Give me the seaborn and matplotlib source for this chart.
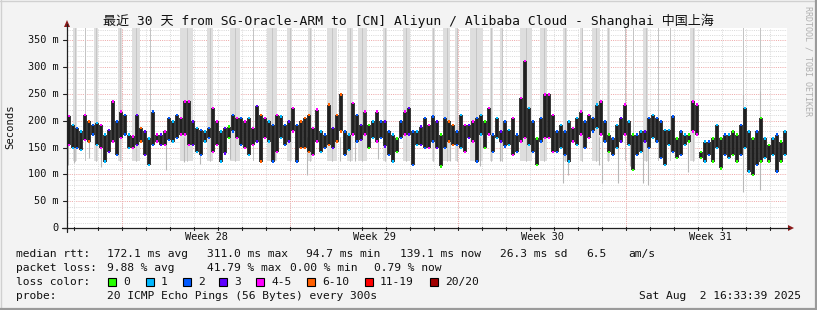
import matplotlib
matplotlib.use("Agg")
import matplotlib.pyplot as plt
import numpy as np
import pandas as pd
import seaborn as sns
from matplotlib.lines import Line2D
from matplotlib.patches import Rectangle, Polygon

# ---------------- data ----------------
title = "最近 30 天 from SG-Oracle-ARM to [CN] Aliyun / Alibaba Cloud - Shanghai 中国上海"
y_ticks = [0, 50, 100, 150, 200, 250, 300, 350]
y_tick_labels = ["0", "50 m", "100 m", "150 m", "200 m", "250 m", "300 m", "350 m"]
week_labels = ["Week 28", "Week 29", "Week 30", "Week 31"]
week_starts = [2.31, 9.31, 16.31, 23.31]      # days since start of window (Sundays 00:00)
first_midnight = 0.31
n_days = 30

# median rtt envelope per 4-hour step (ms), 180 steps over 30 days
med_hi = [
    209, 192, 186, 180, 211, 199, 192, 196, 192, 174, 183, 236, 199, 217, 211, 174, 171, 211, 186, 180, 167, 217, 174, 174, 180, 205, 199, 211, 205, 236,
    236, 199, 186, 183, 180, 186, 224, 199, 180, 186, 189, 211, 205, 205, 199, 205, 186, 227, 211, 205, 199, 192, 211, 208, 192, 199, 224, 192, 199, 205,
    211, 186, 221, 180, 174, 230, 186, 211, 249, 180, 174, 233, 211, 192, 217, 192, 199, 217, 199, 199, 180, 174, 167, 199, 217, 224, 180, 180, 189, 205,
    192, 208, 199, 174, 205, 199, 192, 180, 211, 192, 192, 199, 205, 211, 199, 224, 174, 205, 180, 199, 183, 205, 174, 242, 311, 224, 199, 167, 205, 249,
    249, 211, 180, 192, 180, 199, 186, 205, 217, 199, 211, 205, 230, 236, 199, 174, 167, 192, 205, 230, 199, 174, 174, 180, 180, 205, 211, 205, 199, 183,
    183, 208, 167, 180, 174, 174, 236, 230, 142, 161, 161, 167, 192, 167, 174, 174, 180, 174, 192, 224, 180, 167, 180, 205, 167, 155, 167, 174, 161, 180,
]
med_lo = [
    155, 149, 149, 146, 164, 161, 174, 155, 149, 124, 142, 161, 136, 168, 174, 149, 149, 155, 161, 136, 118, 155, 161, 155, 155, 164, 161, 168, 174, 174,
    155, 155, 142, 136, 161, 168, 142, 155, 124, 139, 168, 180, 168, 155, 149, 136, 155, 161, 124, 168, 161, 124, 142, 168, 155, 161, 180, 124, 149, 149,
    142, 136, 161, 142, 149, 155, 149, 161, 180, 136, 146, 174, 161, 164, 174, 149, 168, 161, 168, 152, 136, 124, 142, 168, 174, 174, 118, 155, 155, 149,
    149, 161, 149, 115, 149, 161, 155, 155, 149, 142, 168, 161, 124, 174, 149, 174, 142, 168, 161, 152, 155, 136, 142, 161, 168, 155, 142, 118, 161, 168,
    168, 142, 142, 149, 136, 124, 161, 155, 174, 149, 168, 180, 186, 174, 161, 142, 136, 149, 161, 174, 155, 108, 136, 142, 161, 149, 168, 161, 130, 118,
    155, 142, 130, 136, 155, 161, 180, 174, 130, 124, 136, 124, 149, 111, 136, 130, 136, 124, 136, 149, 105, 99, 118, 124, 130, 124, 136, 105, 124, 136,
]
# loss colour category per step (0:"0", 1:"1", 2:"2", 3:"3", 4:"4-5", 5:"6-10", 6:"11-19", 7:"20/20")
loss_cat = [
    4, 1, 2, 1, 4, 5, 2, 1, 4, 1, 3, 4, 2, 4, 2, 1, 4, 3, 5, 3, 1, 2, 4, 3, 4, 2, 1, 2, 4, 4,
    4, 3, 1, 2, 1, 2, 4, 4, 1, 3, 0, 2, 4, 2, 4, 1, 4, 3, 5, 4, 1, 2, 4, 1, 2, 3, 4, 2, 5, 5,
    5, 4, 4, 1, 2, 5, 3, 5, 5, 2, 1, 4, 2, 3, 4, 0, 1, 4, 2, 3, 2, 1, 0, 2, 4, 3, 2, 1, 3, 2,
    4, 2, 3, 0, 2, 5, 5, 2, 1, 4, 3, 4, 2, 1, 0, 4, 2, 1, 3, 2, 1, 4, 2, 4, 4, 1, 2, 0, 2, 4,
    4, 4, 2, 1, 2, 1, 4, 1, 4, 2, 4, 2, 1, 4, 2, 0, 2, 1, 3, 4, 1, 0, 2, 1, 3, 2, 1, 2, 2, 1,
    1, 2, 0, 2, 1, 0, 4, 4, 0, 1, 2, 0, 1, 0, 2, 1, 0, 0, 2, 1, 1, 0, 2, 0, 1, 0, 1, 2, 0, 1,
]
loss_labels = ["0", "1", "2", "3", "4-5", "6-10", "11-19", "20/20"]

# periods with heavy loss smoke (day start, day end)
stripe_start = [0.25, 0.75, 1.12, 2.12, 2.71, 3.46, 4.71, 5.83, 6.79, 7.75, 8.33, 9.17, 10.04, 10.83, 11.67, 12.12,
                13.17, 14.00, 15.21, 15.67, 16.17, 16.79, 17.62, 18.04, 18.88, 19.71, 20.67, 21.38, 21.88, 22.50,
                23.25, 23.58, 24.00, 24.62, 25.12, 25.96, 28.17, 28.88]
stripe_end = [0.42, 0.79, 1.29, 2.29, 3.04, 3.50, 5.25, 6.08, 7.21, 7.79, 8.75, 9.38, 10.21, 11.25, 11.92, 12.50,
              13.33, 14.29, 15.33, 15.96, 16.29, 17.33, 17.75, 18.17, 19.38, 20.00, 20.83, 21.50, 22.21, 22.62,
              23.29, 23.62, 24.21, 24.67, 25.17, 26.17, 28.21, 28.92]

# individual smoke outliers (day, low ms, high ms)
spike_day = [0.04, 0.29, 0.92, 1.42, 4.12, 4.88, 5.54, 6.79, 8.67, 10.0, 11.38, 12.0, 12.96, 14.42, 15.96, 17.21,
             18.04, 20.67, 20.88, 22.17, 22.29, 22.96, 23.46, 24.0, 24.21, 25.88, 27.21, 28.17, 28.88]
spike_lo = [118, 121, 130, 114, 108, 124, 120, 128, 126, 99, 125, 125, 128, 118, 125, 115,
            125, 84, 99, 117, 84, 83, 115, 83, 80, 105, 115, 67, 71]
spike_hi = [170, 170, 170, 170, 170, 170, 170, 170, 170, 170, 170, 170, 170, 170, 170, 170,
            170, 170, 170, 170, 170, 170, 170, 170, 170, 170, 170, 250, 255]

stats_rtt = ["172.1 ms avg", "311.0 ms max", "94.7 ms min", "139.1 ms now", "26.3 ms sd", "6.5", "am/s"]
stats_loss = ["9.88 % avg", "41.79 % max", "0.00 % min", "0.79 % now"]
probe_text = "20 ICMP Echo Pings (56 Bytes) every 300s"
stamp_text = "Sat Aug  2 16:33:39 2025"

# ---------------- style ----------------
loss_colors = ["#26ff00", "#00b8ff", "#0059ff", "#5e00ff", "#ff00ff", "#ff5f00", "#ff0000", "#a10000"]
W, H = 817, 310
L, R, T, B = 67, 787, 28, 228
YMAX = 373

sns.set_style("white")
plt.rcParams['font.family'] = ['DejaVu Sans Mono', 'Noto Sans CJK SC']

fig = plt.figure(figsize=(W / 100, H / 100), dpi=100, facecolor="#f3f3f3")


def fx(x):
    return x / W


def fy(y):
    return 1 - y / H


ax = fig.add_axes([fx(L), fy(B), (R - L) / W, (B - T) / H])
ax.set_facecolor("white")
ax.set_xlim(0, n_days)
ax.set_ylim(0, YMAX)
for s in ax.spines.values():
    s.set_visible(False)

dot = (0, (1, 1.2))
minor_col = "#dadada"
major_col = "#eeaaaa"
# horizontal grid
for v in range(10, YMAX, 10):
    ax.axhline(v, color=minor_col if v % 50 else major_col, lw=0.72, ls=dot, zorder=0)
# vertical grid
day_lines = np.arange(first_midnight, n_days, 1.0)
for d in day_lines:
    ax.axvline(d, color=minor_col, lw=0.72, ls=dot, zorder=0)
for d in week_starts:
    ax.axvline(d, color=major_col, lw=0.72, ls=dot, zorder=0)

# loss stripes
for s, e in zip(stripe_start, stripe_end):
    wide = (e - s) > 0.08
    ax.axvspan(s, e, ymin=125 / YMAX, ymax=1, color="#dedede" if wide else "#c4c4c4", lw=0, zorder=1)
    if wide:
        ax.axvline((s + e) / 2, ymin=125 / YMAX, ymax=1, color="#c6c6c6", lw=0.7, zorder=1)

# data frame
n = len(med_hi)
step_day = (np.arange(n) + 0.5) * n_days / n
df = pd.DataFrame({"day": step_day, "hi": med_hi, "lo": med_lo, "loss": loss_cat})

ax.vlines(spike_day, spike_lo, spike_hi, color="#b8b8b8", lw=0.8, zorder=2)
ax.vlines(df["day"], df["lo"], df["hi"], color="#202020", lw=2.7, zorder=3)

tips = pd.concat([
    df[["day", "hi", "loss"]].rename(columns={"hi": "ms"}),
    df[["day", "lo", "loss"]].rename(columns={"lo": "ms"}),
])
tips["loss"] = tips["loss"].map(lambda i: loss_labels[i])
pal = dict(zip(loss_labels, loss_colors))
sns.scatterplot(data=tips, x="day", y="ms", hue="loss", palette=pal, marker="s", s=3,
                linewidth=0, legend=False, ax=ax, zorder=4)
ax.set_xlabel("")
ax.set_ylabel("")
ax.set_xticks([])
ax.set_yticks([])

# ---------------- axes lines, ticks, labels ----------------
axis_col = "#202020"
fig.add_artist(Line2D([fx(62), fx(789)], [fy(B), fy(B)], color=axis_col, lw=0.9))
fig.add_artist(Line2D([fx(L), fx(L)], [fy(B + 4), fy(24)], color=axis_col, lw=0.9))
fig.add_artist(Polygon([[fx(788), fy(B - 3)], [fx(794), fy(B)], [fx(788), fy(B + 3)]],
                       closed=True, color="#8b1a1a", lw=0))
fig.add_artist(Polygon([[fx(L - 3), fy(27)], [fx(L), fy(20)], [fx(L + 3), fy(27)]],
                       closed=True, color="#8b1a1a", lw=0))

for v, lab in zip(y_ticks, y_tick_labels):
    ypx = B - v / YMAX * (B - T)
    fig.add_artist(Line2D([fx(L - 4), fx(L)], [fy(ypx), fy(ypx)], color=axis_col, lw=0.8))
    fig.text(fx(59), fy(ypx), lab, ha="right", va="center", fontsize=7.4, color="#111111")

for d in day_lines:
    xp = L + d / n_days * (R - L)
    fig.add_artist(Line2D([fx(xp), fx(xp)], [fy(B - 1), fy(B + 2)], color=axis_col, lw=0.8))
for d, lab in zip(week_starts, week_labels):
    xp = L + (d + 3.5) / n_days * (R - L)
    fig.text(fx(xp), fy(237), lab, ha="center", va="center", fontsize=7.4, color="#111111")

fig.text(fx(408), fy(21), title, ha="center", va="center", fontsize=9.4, color="#111111")
fig.text(fx(10), fy(127), "Seconds", ha="center", va="center", rotation=90, fontsize=7.6, color="#111111")
fig.text(fx(808), fy(6), "RRDTOOL / TOBI OETIKER", ha="center", va="top", rotation=270,
         fontsize=6.0, color="#b0b0b0")

# ---------------- legend ----------------
fs = 8.15
tc = "#111111"
fig.text(fx(16), fy(254), "median rtt:", ha="left", va="center", fontsize=fs, color=tc)
for xp, t in zip([107, 207, 306, 400, 500.5, 586, 628], stats_rtt):
    fig.text(fx(xp), fy(254), t, ha="left", va="center", fontsize=fs, color=tc)
fig.text(fx(16), fy(268), "packet loss:", ha="left", va="center", fontsize=fs, color=tc)
for xp, t in zip([107, 207, 290, 374], stats_loss):
    fig.text(fx(xp), fy(268), t, ha="left", va="center", fontsize=fs, color=tc)
fig.text(fx(16), fy(282), "loss color:", ha="left", va="center", fontsize=fs, color=tc)
for xp, lab, col in zip([108, 146, 183, 219, 256, 307, 365, 430], loss_labels, loss_colors):
    fig.add_artist(Rectangle((fx(xp), fy(286)), 8 / W, 8 / H, facecolor=col, edgecolor="black", lw=0.8))
    fig.text(fx(xp + 15), fy(282), lab, ha="left", va="center", fontsize=fs, color=tc)
fig.text(fx(16), fy(296), "probe:", ha="left", va="center", fontsize=fs, color=tc)
fig.text(fx(107), fy(296), probe_text, ha="left", va="center", fontsize=fs, color=tc)
fig.text(fx(801), fy(296), stamp_text, ha="right", va="center", fontsize=fs, color=tc)

# ---------------- frame ----------------
fig.add_artist(Line2D([0, 1], [fy(0.5), fy(0.5)], color="#d0d0d0", lw=1))
fig.add_artist(Line2D([fx(0.5), fx(0.5)], [0, 1], color="#d0d0d0", lw=1))
fig.add_artist(Line2D([0, 1], [fy(309), fy(309)], color="#9a9a9a", lw=1.6))
fig.add_artist(Line2D([fx(816), fx(816)], [0, 1], color="#9a9a9a", lw=1.6))

fig.savefig("out.png", dpi=100, facecolor=fig.get_facecolor())
